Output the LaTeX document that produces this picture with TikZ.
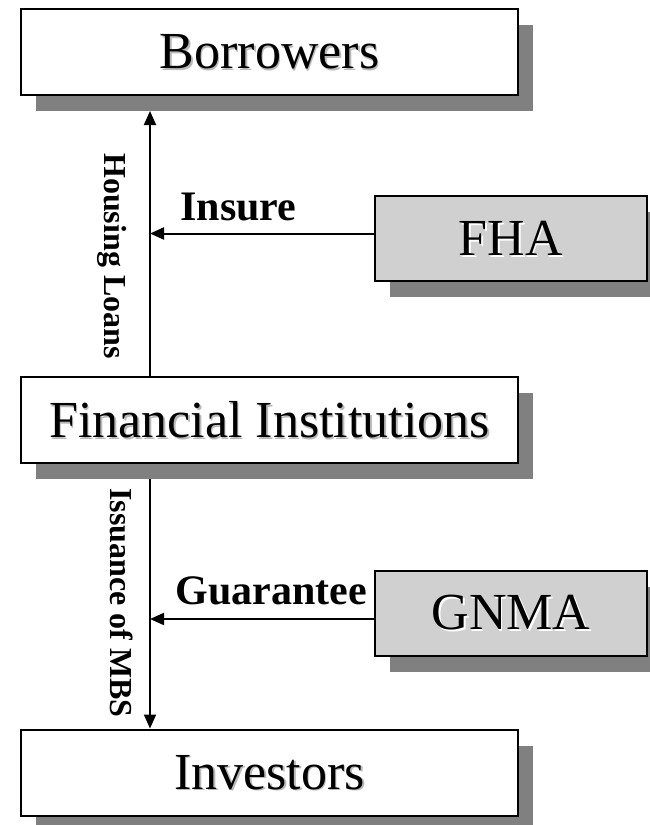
\documentclass[tikz,border=0pt]{standalone}
\usepackage{fontspec}
\setmainfont{Liberation Serif}
\usetikzlibrary{arrows.meta}
\definecolor{shadowgray}{RGB}{128,128,128}
\definecolor{boxgray}{RGB}{208,208,208}
\definecolor{txtshadow}{RGB}{185,185,185}
\newcommand\shtext[2]{\makebox[0pt][l]{\hspace{1.5pt}\raisebox{-1.5pt}[0pt][0pt]{\textcolor{#1}{#2}}}#2}
\begin{document}
\begin{tikzpicture}[x=1pt,y=-1pt,
  box/.style={draw=black, line width=2pt, fill=white, inner sep=0pt,
    minimum width=497pt, minimum height=86pt, font=\fontsize{52}{60}\selectfont},
  greybox/.style={box, fill=boxgray, minimum width=272pt, minimum height=85pt},
  shadowbox/.style={fill=shadowgray, inner sep=0pt, outer sep=0pt},
  lbl/.style={font=\bfseries\fontsize{42}{48}\selectfont, anchor=base, inner sep=0pt},
  vlbl/.style={font=\bfseries\fontsize{32}{38}\selectfont, anchor=base, inner sep=0pt, rotate=-90},
  arr/.style={line width=2pt, -{Triangle[length=14pt,width=12pt]}}]
\useasboundingbox (0,0) rectangle (650,825);
\clip (0,0) rectangle (650,825);
\coordinate (axis) at (150,0);
% shadows
\node[shadowbox, minimum width=497pt, minimum height=86pt] (borS) at (284.5,68) {};
\node[shadowbox, minimum width=497pt, minimum height=86pt] (fiS) at (284.5,436) {};
\node[shadowbox, minimum width=497pt, minimum height=86pt] (invS) at (284.5,788.5) {};
\node[shadowbox, minimum width=272pt, minimum height=85pt] (fhaS) at (526,254.5) {};
\node[shadowbox, minimum width=272pt, minimum height=85pt] (gnmaS) at (526,629) {};
% boxes
\node[box] (bor) at (269.5,52) {\shtext{txtshadow}{Borrowers}};
\node[box] (fi) at (269.5,420) {\shtext{txtshadow}{Financial Institutions}};
\node[box] (inv) at (269.5,772.5) {\shtext{txtshadow}{Investors}};
\node[greybox] (fha) at (511,238.5) {\shtext{white}{FHA}};
\node[greybox] (gnma) at (511,613) {\shtext{white}{GNMA}};
% connectors
\draw[arr] (fi.north -| axis) -- (borS.south -| axis);
\draw[arr] (fiS.south -| axis) -- (inv.north -| axis);
\draw[arr] ([yshift=5pt]fha.west) -- ([yshift=5pt]fha.west -| axis);
\draw[arr] ([yshift=-6pt]gnma.west) -- ([yshift=-6pt]gnma.west -| axis);
% labels
\node[lbl] (insure) at (238.5,220) {Insure};
\node[lbl] (guar) at (271,604) {Guarantee};
\node[vlbl] (hl) at (104,256) {Housing Loans};
\node[vlbl] (mbs) at (110,603) {Issuance of MBS};
\end{tikzpicture}
\end{document}
